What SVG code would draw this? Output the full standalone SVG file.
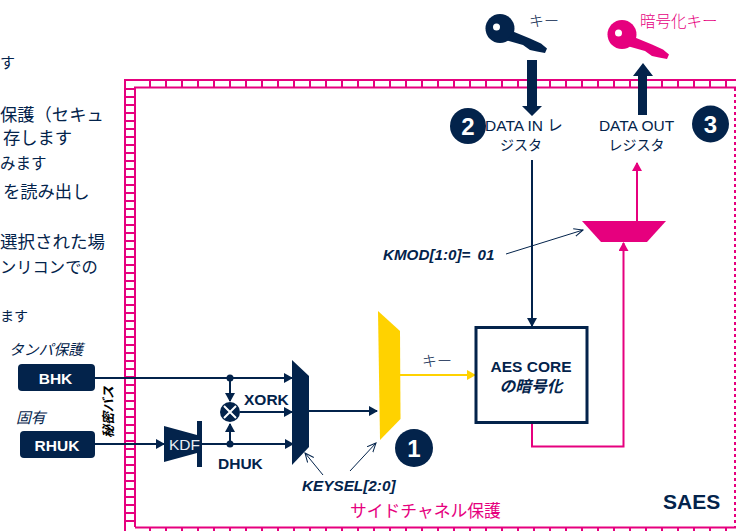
<svg xmlns="http://www.w3.org/2000/svg" width="736" height="531" viewBox="0 0 736 531">
<style>
text{font-family:"Liberation Sans","Noto Sans CJK JP",sans-serif;fill:#03234b}
.jp{font-family:"Noto Sans CJK JP","Noto Sans",sans-serif}
.body{font-size:17.300px;font-weight:400;font-family:"Noto Sans CJK JP",sans-serif}
.b{font-weight:700}
.bi{font-weight:700;font-style:italic}
.i{font-style:italic}
.pk{fill:#e6007e}
.m{text-anchor:middle}
.nv{fill:#03234b}
.pf{fill:#e6007e}
.ln{fill:none;stroke:#03234b;stroke-width:2}
.thin{fill:none;stroke:#03234b;stroke-width:1}
.pl{fill:none;stroke:#e6007e;stroke-width:2}
.lad{fill:none;stroke:#e6007e}
.num{font-size:24px;font-weight:700;fill:#fff;text-anchor:middle}
</style>
<defs>
<marker id="an" markerUnits="userSpaceOnUse" markerWidth="9" markerHeight="10" refX="8" refY="5" orient="auto"><path d="M0 0L9 5L0 10Z" fill="#03234b"/></marker>
<marker id="ap" markerUnits="userSpaceOnUse" markerWidth="9" markerHeight="10" refX="8" refY="5" orient="auto"><path d="M0 0L9 5L0 10Z" fill="#e6007e"/></marker>
<marker id="ay" markerUnits="userSpaceOnUse" markerWidth="9" markerHeight="10" refX="8" refY="5" orient="auto"><path d="M0 0L9 5L0 10Z" fill="#ffd200"/></marker>
<marker id="at" markerUnits="userSpaceOnUse" markerWidth="10" markerHeight="10" refX="9" refY="5" orient="auto"><path d="M0 1L9 5L0 9" fill="none" stroke="#03234b" stroke-width="1"/></marker>
<g id="key"><circle r="14.500"/><path d="M13 3L30 10L41 15L47 20L45 24.500L37 23L30 21.500L23 16.500L7 12Z"/><circle cx="-3.500" cy="-1.500" r="3.500" fill="#fff"/></g>
</defs>

<g id="side-text">
<text class="body" x="0" y="68" style="font-size:15px">す</text>
<text class="body" x="0" y="121">保護（セキュ</text>
<text class="body" x="3" y="144">存します</text>
<text class="body" x="0" y="169" style="font-size:15.500px">みます</text>
<text class="body" x="3" y="198">を読み出し</text>
<text class="body" x="0" y="248" style="font-size:17.500px">選択された場</text>
<text class="body" x="0" y="273" style="font-size:16.300px">ンリコンでの</text>
<text class="body" x="0" y="321" style="font-size:14px">ます</text>
</g>

<g id="frame">
<path class="lad" stroke-width="2" d="M125 531V80H736"/>
<path class="lad" stroke-width="2" d="M135 527V87.500H736"/>
<path class="lad" stroke-width="2" d="M135 527.500H736"/>
<path class="lad" stroke-width="9" stroke-dasharray="2 6" d="M130 88V527"/>
<path class="lad" stroke-width="8" stroke-dasharray="2 14" d="M149 84H736"/>
<path class="lad" stroke-width="4" stroke-dasharray="2 14" d="M149 530H736"/>
<path class="lad" stroke-width="2" stroke-dasharray="3 3" d="M735 88V527"/>
</g>

<g id="connectors">
<path class="ln" marker-end="url(#an)" d="M95 378H292"/>
<path class="ln" marker-end="url(#an)" d="M95 444H164"/>
<path class="ln" marker-end="url(#an)" d="M202 444H293"/>
<path class="ln" marker-end="url(#an)" d="M230 378V401"/>
<path class="ln" marker-end="url(#an)" d="M230 444V424"/>
<path class="ln" marker-end="url(#an)" d="M240 412H292"/>
<path class="ln" marker-end="url(#an)" d="M309 411H377"/>
<path class="ln" marker-end="url(#an)" d="M532 160V326"/>
<path d="M400 375H475" fill="none" stroke="#ffd200" stroke-width="2" marker-end="url(#ay)"/>
<path class="pl" marker-end="url(#ap)" d="M532 423V446.500H623.500V243"/>
<path class="pl" marker-end="url(#ap)" d="M637 221V163"/>
<path class="thin" marker-end="url(#at)" d="M323 475L305 453"/>
<path class="thin" marker-end="url(#at)" d="M350 471L376 443"/>
<path class="thin" marker-end="url(#at)" d="M506 254L583 230"/>
<path class="nv" d="M527 60H537V106H542L532 116L522 106H527Z"/>
<path class="nv" d="M638 115V76H633L643 63L653 76H647V115Z"/>
<circle class="nv" cx="230" cy="378" r="3.500"/>
<circle class="nv" cx="230" cy="444" r="3.500"/>
</g>

<g id="key-in"><use href="#key" x="500" y="28.500" fill="#03234b"/><text class="jp" x="529" y="26" font-size="15" font-weight="300">キー</text></g>
<g id="key-out"><use href="#key" x="622" y="34.500" fill="#e6007e"/><text class="jp pk" x="640" y="27" font-size="15.500" font-weight="300">暗号化キー</text></g>

<g id="badge-1"><circle class="nv" cx="414" cy="448" r="19"/><text class="num" x="414" y="457">1</text></g>
<g id="badge-2"><circle class="nv" cx="468" cy="126" r="18"/><text class="num" x="468" y="135">2</text></g>
<g id="badge-3"><circle class="nv" cx="710.500" cy="124" r="18.500"/><text class="num" x="710.500" y="133">3</text></g>

<g id="data-in"><text x="485" y="131" font-size="15.500">DATA IN レ</text><text class="m" x="521" y="150" font-size="14">ジスタ</text></g>
<g id="data-out"><text class="m" x="636.500" y="131" font-size="15.500">DATA OUT</text><text class="m" x="636.500" y="150" font-size="14">レジスタ</text></g>

<g id="out-mux"><path class="pf" d="M582 221H666L647 242H601Z"/></g>
<g id="kmod"><text class="bi" x="383" y="260" font-size="15.200" word-spacing="3">KMOD[1:0]= 01</text></g>

<g id="aes-core"><rect x="476" y="327.500" width="111" height="95" fill="#fff" stroke="#03234b" stroke-width="3"/>
<text class="b m" x="531" y="372" font-size="15.500">AES CORE</text><text class="bi m" x="531" y="392" font-size="15.800">の暗号化</text></g>

<g id="key-mux"><path fill="#ffd200" d="M378 311L400 331L400.500 419L380 440Z"/><text class="jp" x="422" y="366" font-size="15" font-weight="300">キー</text></g>

<g id="sel-mux"><path class="nv" d="M292 360L309 376V447L292 465Z"/></g>
<g id="keysel"><text class="bi" x="302" y="491" font-size="15.300">KEYSEL[2:0]</text></g>

<g id="bhk"><rect class="nv" x="18" y="364" width="77" height="27" rx="4"/><text class="b m" x="55.500" y="384" font-size="15.500" style="fill:#fff">BHK</text></g>
<g id="rhuk"><rect class="nv" x="20" y="431" width="75" height="27" rx="4"/><text class="b m" x="57" y="451" font-size="15.500" style="fill:#fff">RHUK</text></g>
<g id="label-tamper"><text class="i" x="9" y="355" font-size="14.800">タンパ保護</text></g>
<g id="label-unique"><text class="i" x="16" y="423" font-size="14.800">固有</text></g>
<g id="secret-bus"><text class="bi m" transform="translate(113 412) rotate(-90)" font-size="13" style="fill:#000">秘密バス</text></g>

<g id="kdf"><path class="nv" d="M164 426L197 435V453L164 462Z"/><rect class="nv" x="197" y="421" width="5" height="46"/><text x="169" y="450" font-size="15.500" style="fill:#e8edf3">KDF</text></g>
<g id="xor"><circle class="nv" cx="230" cy="412" r="10"/><path d="M224 406L236 418M236 406L224 418" stroke="#fff" stroke-width="2"/></g>
<g id="labels"><text class="b" x="244" y="405" font-size="15.500">XORK</text><text class="b" x="218" y="469" font-size="15.500">DHUK</text></g>

<g id="footer"><text class="jp pk" x="350" y="517" font-size="16.800" font-weight="400">サイドチャネル保護</text><text class="b" x="663" y="509" font-size="21">SAES</text></g>
</svg>
